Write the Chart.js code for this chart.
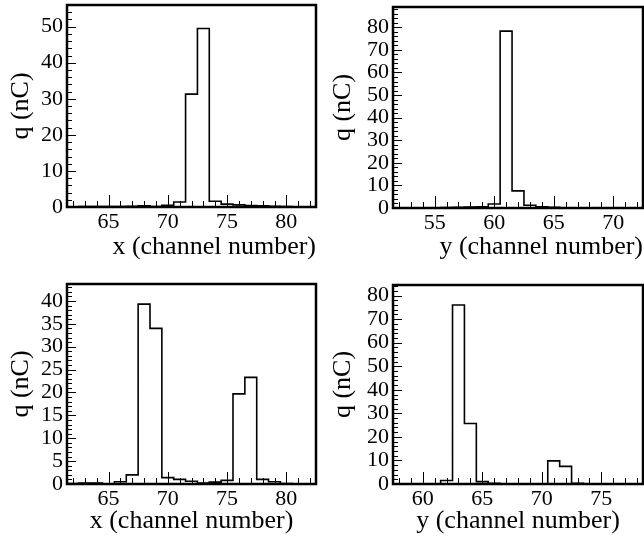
<!DOCTYPE html>
<html>
<head>
<meta charset="utf-8">
<script src="https://cdn.jsdelivr.net/npm/chart.js@4.4.1/dist/chart.umd.min.js"></script>
<style>
  html, body { margin: 0; padding: 0; background: #fff; }
  #wrap { position: relative; width: 644px; height: 539px; }
  canvas { position: absolute; }
</style>
</head>
<body>
<div id="wrap">
  <canvas id="c1" width="322" height="270" style="left:0;top:0"></canvas>
  <canvas id="c2" width="322" height="270" style="left:322px;top:0"></canvas>
  <canvas id="c3" width="322" height="269" style="left:0;top:270px"></canvas>
  <canvas id="c4" width="322" height="269" style="left:322px;top:270px"></canvas>
</div>
<script>
// top left: x profile, event 1
const channelsX1 = [62, 63, 64, 65, 66, 67, 68, 69, 70, 71, 72, 73, 74, 75, 76, 77, 78, 79, 80, 81, 82];
const chargeX1 = [0, 0.1, 0.1, 0.1, 0.1, 0.2, 0.3, 0.1, 0.5, 1.4, 31.3, 49.5, 1.6, 0.8, 0.6, 0.4, 0.3, 0.2, 0.1, 0, 0];
// top right: y profile, event 1
const channelsY1 = [52, 53, 54, 55, 56, 57, 58, 59, 60, 61, 62, 63, 64, 65, 66, 67, 68, 69, 70, 71, 72];
const chargeY1 = [0, 0, 0, 0, 0.2, 0.3, 0.4, 0.5, 1.8, 78.3, 7.6, 1.2, 0.5, 0.3, 0.1, 0, 0, 0, 0, 0, 0];
// bottom left: x profile, event 2
const channelsX2 = [62, 63, 64, 65, 66, 67, 68, 69, 70, 71, 72, 73, 74, 75, 76, 77, 78, 79, 80, 81, 82];
const chargeX2 = [0.1, 0.2, 0.2, 0, 0.5, 2.0, 39.3, 34.0, 1.4, 1.0, 0.6, 0.2, 0.4, 0.8, 19.7, 23.3, 1.0, 0.5, 0.1, 0, 0];
// bottom right: y profile, event 2
const channelsY2 = [58, 59, 60, 61, 62, 63, 64, 65, 66, 67, 68, 69, 70, 71, 72, 73, 74, 75, 76, 77, 78];
const chargeY2 = [0, 0, 0, 0, 1.5, 76.0, 25.7, 1.0, 0.3, 0, 0, 0, 0, 9.8, 7.5, 0.3, 0.1, 0, 0, 0, 0];

// tick labels
const xTicksX = [65, 70, 75, 80];
const xTicksY1 = [55, 60, 65, 70];
const xTicksY2 = [60, 65, 70, 75];
const yTicks1 = [0, 10, 20, 30, 40, 50];
const yTicks2 = [0, 10, 20, 30, 40, 50, 60, 70, 80];
const yTicks3 = [0, 5, 10, 15, 20, 25, 30, 35, 40];
const yTicks4 = [0, 10, 20, 30, 40, 50, 60, 70, 80];

const SERIF = "'Liberation Serif', 'DejaVu Serif', serif";

// step outline like a ROOT histogram: one point per left bin edge + closing right edge
function histPoints(ch, q) {
  const pts = ch.map((c, i) => ({ x: c - 0.5, y: q[i] }));
  pts.push({ x: ch[ch.length - 1] + 0.5, y: q[q.length - 1] });
  return pts;
}

// frame + inward ticks
function frameTicks(yMajor, yMinor) {
  return {
    id: 'frameTicks',
    afterDatasetsDraw(chart) {
      const { ctx, chartArea: a, scales: { x, y } } = chart;
      ctx.save();
      ctx.strokeStyle = '#000';
      ctx.lineWidth = 1;
      ctx.beginPath();
      for (let v = Math.ceil(x.min); v <= x.max; v += 1) {
        const px = Math.round(x.getPixelForValue(v)) + 0.5;
        const len = v % 5 === 0 ? 12 : 6;
        ctx.moveTo(px, a.bottom);
        ctx.lineTo(px, a.bottom - len);
      }
      for (let v = 0; v <= y.max; v += yMinor) {
        const py = Math.round(y.getPixelForValue(v)) + 0.5;
        const len = v % yMajor === 0 ? 9 : 5;
        ctx.moveTo(a.left, py);
        ctx.lineTo(a.left + len, py);
      }
      ctx.stroke();
      ctx.lineWidth = 2.5;
      ctx.strokeRect(a.left, a.top, a.right - a.left, a.bottom - a.top);
      ctx.restore();
    }
  };
}

function makePanel(id, ch, q, o) {
  new Chart(document.getElementById(id), {
    type: 'line',
    data: {
      datasets: [{
        data: histPoints(ch, q),
        stepped: 'before',
        borderColor: '#000',
        borderWidth: 1.6,
        pointRadius: 0,
        fill: false
      }]
    },
    options: {
      responsive: false,
      animation: false,
      layout: { padding: { top: o.top, right: o.right, left: 0, bottom: 0 } },
      plugins: { legend: { display: false }, tooltip: { enabled: false } },
      scales: {
        x: {
          type: 'linear',
          min: o.xMin,
          max: o.xMax,
          grid: { display: false, drawTicks: false },
          border: { display: false },
          afterBuildTicks: s => { s.ticks = o.xTicks.map(v => ({ value: v })); },
          afterFit: s => { s.height = o.xH; s.paddingLeft = 0; s.paddingRight = 0; },
          ticks: { autoSkip: false, maxRotation: 0, padding: 2, color: '#000', font: { family: SERIF, size: 22 } },
          title: {
            display: true, text: o.xTitle, align: o.xAlign, color: '#000',
            font: { family: SERIF, size: 26 }, padding: { top: 0, bottom: o.xTitlePad }
          }
        },
        y: {
          type: 'linear',
          min: 0,
          max: o.yMax,
          grid: { display: false, drawTicks: false },
          border: { display: false },
          afterBuildTicks: s => { s.ticks = o.yTicks.map(v => ({ value: v })); },
          afterFit: s => { s.width = o.yW; s.paddingTop = 0; s.paddingBottom = 0; },
          ticks: { autoSkip: false, padding: 4, color: '#000', font: { family: SERIF, size: 22 } },
          title: {
            display: true, text: 'q (nC)', color: '#000',
            font: { family: SERIF, size: 26 }, padding: { top: 6, bottom: 0 }
          }
        }
      }
    },
    plugins: [frameTicks(o.yMajor, o.yMinor)]
  });
}

makePanel('c1', channelsX1, chargeX1, {
  xMin: 61.5, xMax: 82.5, yMax: 56, xTicks: xTicksX, yTicks: yTicks1, yMajor: 10, yMinor: 2,
  top: 5, right: 6, xH: 63, yW: 67, xTitle: 'x (channel number)', xAlign: 'end', xTitlePad: 7
});
makePanel('c2', channelsY1, chargeY1, {
  xMin: 51.5, xMax: 72.5, yMax: 89, xTicks: xTicksY1, yTicks: yTicks2, yMajor: 10, yMinor: 2,
  top: 7, right: 1, xH: 62, yW: 71, xTitle: 'y (channel number)', xAlign: 'end', xTitlePad: 7
});
makePanel('c3', channelsX2, chargeX2, {
  xMin: 61.5, xMax: 82.5, yMax: 43.7, xTicks: xTicksX, yTicks: yTicks3, yMajor: 5, yMinor: 1,
  top: 14, right: 6, xH: 55, yW: 67, xTitle: 'x (channel number)', xAlign: 'center', xTitlePad: 2
});
makePanel('c4', channelsY2, chargeY2, {
  xMin: 57.5, xMax: 78.5, yMax: 84.5, xTicks: xTicksY2, yTicks: yTicks4, yMajor: 10, yMinor: 2,
  top: 15, right: 1, xH: 55, yW: 71, xTitle: 'y (channel number)', xAlign: 'center', xTitlePad: 2
});
</script>
</body>
</html>
